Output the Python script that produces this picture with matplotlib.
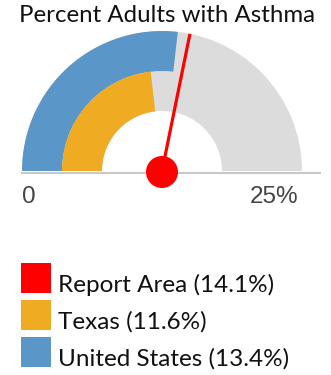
import matplotlib
matplotlib.use('Agg')
import matplotlib.pyplot as plt
from matplotlib.patches import Wedge, Circle, Rectangle
import numpy as np

# values (percent)
scale_max = 25.0
report_area = 14.1
texas = 11.6
united_states = 13.4
labels = ['Report Area (14.1%)', 'Texas (11.6%)', 'United States (13.4%)']
colors = ['#ff0000', '#efab22', '#5b96c8']

W, H = 331, 375
fig = plt.figure(figsize=(W / 100, H / 100), dpi=100)
ax = fig.add_axes([0, 0, 1, 1])
ax.set_xlim(0, W)
ax.set_ylim(0, H)
ax.axis('off')

cx, cy = 162, H - 171
r_out, r_mid, r_in = 140, 100, 60


def angle(v):
    return 180 - v / scale_max * 180


# background arc
ax.add_patch(Wedge((cx, cy), r_out, 0, 180, width=r_out - r_in, color='#dcdcdc', lw=0))
# United States (outer band)
ax.add_patch(Wedge((cx, cy), r_out, angle(united_states), 180, width=r_out - r_mid,
                   color=colors[2], lw=0))
# Texas (inner band)
ax.add_patch(Wedge((cx, cy), r_mid, angle(texas), 180, width=r_mid - r_in,
                   color=colors[1], lw=0))

# baseline
ax.plot([21, 321], [cy - 2, cy - 2], color='#c8c8c8', lw=1.5, solid_capstyle='butt')

# needle
a = np.radians(angle(report_area))
ax.plot([cx, cx + r_out * np.cos(a)], [cy, cy + r_out * np.sin(a)], color='#ff0000', lw=2.3,
        solid_capstyle='butt')
ax.add_patch(Circle((cx, cy - 1), 16, color='#ff0000', lw=0, zorder=5))

# scale labels
ax.text(22, H - 197, '0', fontsize=17.5, color='#444444', family='Liberation Sans',
        ha='left', va='center')
ax.text(298, H - 197, '25%', fontsize=17.5, color='#444444', family='Liberation Sans',
        ha='right', va='center')

# title
ax.text(167, H - 16, 'Percent Adults with Asthma', fontsize=17.3, color='#111111',
        family='Lato', ha='center', va='center')

# legend
box_tops = [263, 300, 337]
for top, lab, c in zip(box_tops, labels, colors):
    ax.add_patch(Rectangle((21, H - top - 30), 30, 30, color=c, lw=0))
    ax.text(58, H - top - 22, lab, fontsize=17.5, color='#111111', family='Lato',
            ha='left', va='center')

fig.savefig('out.png', dpi=100)
